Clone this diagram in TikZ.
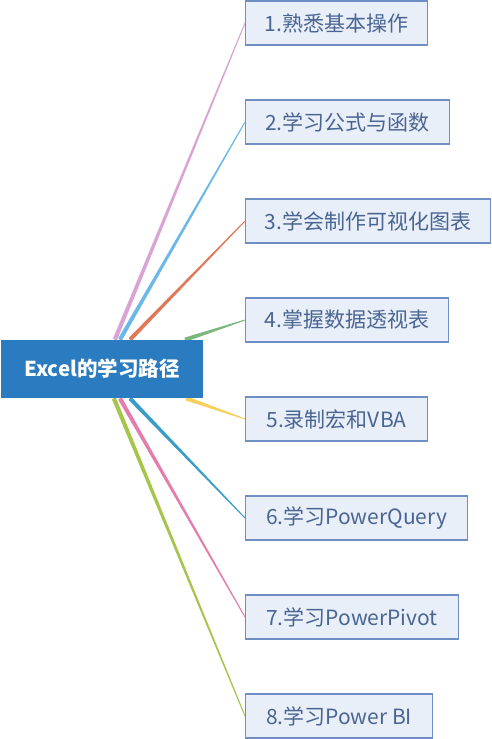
\documentclass[tikz,border=0pt]{standalone}
\usepackage{fontspec}
\newfontfamily\cjk{Noto Sans CJK SC}
\usetikzlibrary{calc,backgrounds}

\definecolor{RootBlue}{HTML}{2B7BC0}
\definecolor{BoxFill}{HTML}{E9EFF9}
\definecolor{BoxLine}{HTML}{6F8FC4}
\definecolor{BoxText}{HTML}{4A6592}
\definecolor{BrOne}{HTML}{D9A3D5}
\definecolor{BrTwo}{HTML}{6CB9E8}
\definecolor{BrThree}{HTML}{E0795A}
\definecolor{BrFour}{HTML}{7CB77E}
\definecolor{BrFive}{HTML}{F7CF5C}
\definecolor{BrSix}{HTML}{3A9DC6}
\definecolor{BrSeven}{HTML}{E47DAE}
\definecolor{BrEight}{HTML}{A5C54B}

% tapered branch: colour, start, end node
\newcommand{\branch}[3]{%
  \fill[#1] ($(#2)!2.2pt!90:(#3)$) -- ($(#3.west)!0.5pt!-90:(#2)$)
    -- ($(#3.west)!0.5pt!90:(#2)$) -- ($(#2)!2.2pt!-90:(#3)$) -- cycle;}

\tikzset{
  root/.style={fill=RootBlue, text=white, minimum width=202, minimum height=58,
    inner sep=0, font=\cjk\bfseries\fontsize{20.5}{24}\selectfont},
  topic/.style={fill=BoxFill, draw=BoxLine, line width=1.1, text=BoxText,
    anchor=west, minimum height=44, inner sep=0,
    font=\cjk\fontsize{21}{25}\selectfont}
}

\begin{document}
\begin{tikzpicture}[x=1pt, y=1pt]
 \useasboundingbox (0,0) rectangle (491,-739);

 %%%%%%%%%% Noeuds %%%%%%%%%%
 \node[root] (root) at (102,-369) {Excel的学习路径};
 \node[topic, minimum width=182] (s1) at (245,-23) {1.熟悉基本操作};
 \node[topic, minimum width=204] (s2) at (245,-122) {2.学习公式与函数};
 \node[topic, minimum width=245] (s3) at (245,-221) {3.学会制作可视化图表};
 \node[topic, minimum width=203] (s4) at (245,-320) {4.掌握数据透视表};
 \node[topic, minimum width=182] (s5) at (245,-419) {5.录制宏和VBA};
 \node[topic, minimum width=222] (s6) at (245,-518) {6.学习PowerQuery};
 \node[topic, minimum width=213] (s7) at (245,-617) {7.学习PowerPivot};
 \node[topic, minimum width=187] (s8) at (245,-716) {8.学习Power BI};

 %%%%%%%%%% Points de depart %%%%%%%%%%
 \coordinate (r1) at ($(root.north west)+(114,0)$);
 \coordinate (r2) at ($(root.north west)+(119,0)$);
 \coordinate (r3) at ($(root.north west)+(129,0)$);
 \coordinate (r4) at ($(root.north west)+(184,0)$);
 \coordinate (r5) at ($(root.south west)+(185,0)$);
 \coordinate (r6) at ($(root.south west)+(129,0)$);
 \coordinate (r7) at ($(root.south west)+(119,0)$);
 \coordinate (r8) at ($(root.south west)+(113,0)$);

 % Branches
 \begin{scope}[on background layer]
 \branch{BrOne}{r1}{s1}
 \branch{BrTwo}{r2}{s2}
 \branch{BrThree}{r3}{s3}
 \branch{BrFour}{r4}{s4}
 \branch{BrFive}{r5}{s5}
 \branch{BrSix}{r6}{s6}
 \branch{BrSeven}{r7}{s7}
 \branch{BrEight}{r8}{s8}
 \end{scope}

\end{tikzpicture}
\end{document}
